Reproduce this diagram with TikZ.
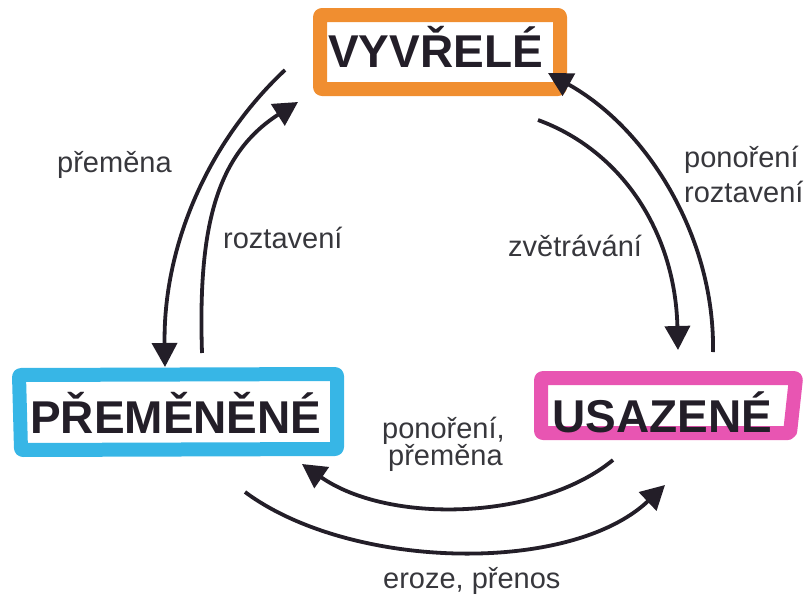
\documentclass[tikz,border=0pt]{standalone}
\usepackage{fontspec}
\setmainfont{Liberation Sans}
\usetikzlibrary{arrows.meta}
\definecolor{ink}{RGB}{35,30,40}
\definecolor{txt}{RGB}{55,55,60}
\definecolor{vyvcol}{RGB}{240,142,48}
\definecolor{premcol}{RGB}{55,182,230}
\definecolor{usazcol}{RGB}{232,85,178}

\begin{document}
\begin{tikzpicture}[x=1pt,y=-1pt,
  rock/.style={font=\fontsize{46}{50}\selectfont\bfseries, text=ink, anchor=base west, inner sep=0pt},
  lbl/.style={font=\fontsize{29}{32}\selectfont, text=txt, anchor=base west, inner sep=0pt},
  frame/.style={line width=14pt, rounded corners=2pt, line join=round},
  cyc/.style={ink, line width=3.8pt, -{Triangle[length=24pt,width=25pt]}}]
\useasboundingbox (0,0) rectangle (805,597);

\def\vyvframe{(320,15) rectangle (560,89)}
\def\premframe{(19,375) -- (337,374) -- (337,449) -- (21,450) -- cycle}
\def\usazframe{(541,378) -- (796,378) -- (790,433) -- (541,433) -- cycle}

% marker frames
\draw[frame, vyvcol] \vyvframe;
\draw[frame, premcol] \premframe;
\draw[frame, usazcol] \usazframe;

% rock names
\node[rock] (vyv) at (328,67) {VYVŘELÉ};
\node[rock] (prem) at (30,433) {PŘEMĚNĚNÉ};
\node[rock] (usaz) at (552,432) {USAZENÉ};

% arrow ends
\coordinate (vyv-sw) at (285,70);
\coordinate (vyv-sw2) at (298,102);
\coordinate (vyv-se) at (538,120);
\coordinate (vyv-se2) at (548,73);
\coordinate (prem-n) at (165,367);
\coordinate (prem-n2) at (202,353);
\coordinate (prem-se) at (302,464);
\coordinate (prem-se2) at (245,492);
\coordinate (usaz-n) at (678,350);
\coordinate (usaz-n2) at (713,352);
\coordinate (usaz-sw) at (613,460);
\coordinate (usaz-sw2) at (665,485);

% cycle
\draw[cyc] (vyv-sw) .. controls (205,145) and (163,250) .. (prem-n);
\draw[cyc] (prem-n2) .. controls (198,230) and (215,155) .. (vyv-sw2);
\draw[cyc] (vyv-se) .. controls (620,150) and (675,230) .. (usaz-n);
\draw[cyc] (usaz-n2) .. controls (715,240) and (650,130) .. (vyv-se2);
\draw[cyc] (usaz-sw) .. controls (540,520) and (390,525) .. (prem-se);
\draw[cyc] (prem-se2) .. controls (350,570) and (570,575) .. (usaz-sw2);

% labels
\node[lbl] (l-prem) at (57,172) {přeměna};
\node[lbl] (l-rozt) at (223,248) {roztavení};
\node[lbl] (l-zvet) at (508,256) {zvětrávání};
\node[lbl] (l-pon1) at (684,167) {ponoření};
\node[lbl] (l-rozt2) at (684,202) {roztavení};
\node[lbl] (l-pon2) at (382,438) {ponoření,};
\node[lbl] (l-prem2) at (388,465) {přeměna};
\node[lbl] (l-eroz) at (383,588) {eroze, přenos};
\end{tikzpicture}
\end{document}
